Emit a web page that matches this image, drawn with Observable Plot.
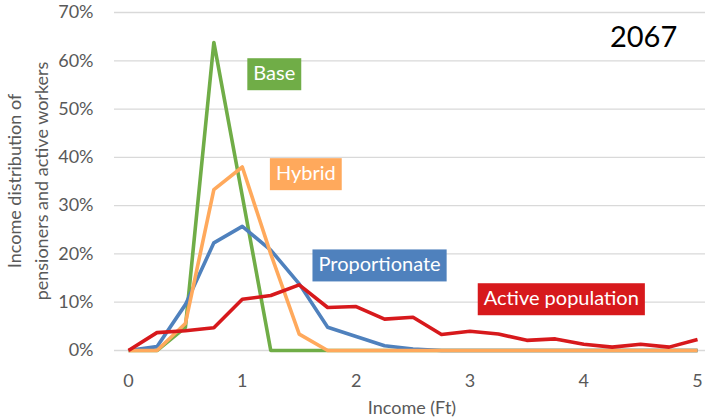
<!DOCTYPE html>
<html><head><meta charset="utf-8">
<script src="https://cdn.jsdelivr.net/npm/d3@7"></script>
<script src="https://cdn.jsdelivr.net/npm/@observablehq/plot@0.6"></script>
<style>body{margin:0;background:#fff;}</style>
</head><body><div id="chart"></div>
<script>
const income = [0,0.25,0.5,0.75,1,1.25,1.5,1.75,2,2.25,2.5,2.75,3,3.25,3.5,3.75,4,4.25,4.5,4.75,5];
const base          = [0,0,4.8,63.8,32.0,0,0,0,0,0,0,0,0,0,0,0,0,0,0,0,0];
const proportionate = [0,0.8,9.5,22.3,25.7,20.8,13.8,4.8,2.9,1.0,0.3,0,0,0,0,0,0,0,0,0,0];
const hybrid        = [0,0,5.6,33.3,38.0,20.0,3.4,0,0,0,0,0,0,0,0,0,0,0,0,0,0];
const active        = [0,3.7,4.1,4.7,10.6,11.4,13.6,8.9,9.1,6.5,6.9,3.3,4.0,3.4,2.1,2.4,1.3,0.7,1.3,0.7,2.3];
const seriesNames  = ["Base","Proportionate","Hybrid","Active population"];
const seriesColors = ["#70AD47","#4F81BD","#FFA95C","#D7191C"];
const xTicks = [0,1,2,3,4,5];
const yTicks = [0,10,20,30,40,50,60,70];
const yearLabel = "2067";
const labelNames = ["Base","Hybrid","Proportionate","Active population"];
const labelX = [1.281,1.558,2.206,3.803];
const labelY = [57.3,36.6,17.7,10.7];

const seriesValues = [base, proportionate, hybrid, active];
const rows = seriesNames.flatMap((name, k) => income.map((x, i) => ({x, y: seriesValues[k][i], name})));
const labels = labelNames.map((t, i) => ({t, x: labelX[i], y: labelY[i]}));
const colorOf = Object.fromEntries(seriesNames.map((n, i) => [n, seriesColors[i]]));
const font = "Lato, 'Open Sans', sans-serif";

const plot = Plot.plot({
  width: 707, height: 420,
  marginLeft: 114, marginRight: 2, marginTop: 12, marginBottom: 70,
  x: {domain: [-0.123, 5.07], ticks: xTicks, tickFormat: d => String(d), tickSize: 0, tickPadding: 24, label: null},
  y: {domain: [0, 70], ticks: yTicks, tickFormat: d => d + "%", tickSize: 0, tickPadding: 21, label: null},
  color: {domain: seriesNames, range: seriesColors},
  style: {fontFamily: font, fontSize: "18px", color: "#595959", background: "#fff"},
  marks: [
    Plot.ruleY(yTicks, {stroke: "#d9d9d9", strokeWidth: 1.3}),
    Plot.line(rows, {x: "x", y: "y", z: "name", stroke: "name", strokeWidth: 3.6, strokeLinejoin: "round", strokeLinecap: "butt"}),
    Plot.text(labels, {x: "x", y: "y", text: "t", fill: "white", fontSize: 20, fontFamily: font}),
    Plot.text([yearLabel], {x: 4.526, y: 64.7, text: d => d, fill: "black", fontSize: 29, fontFamily: font})
  ]
});
document.getElementById("chart").appendChild(plot);

const svg = d3.select(plot);
svg.selectAll("text").filter(function() { return labelNames.includes(this.textContent); })
  .each(function() {
    const b = this.getBBox();
    const name = this.textContent;
    const r = d3.select(this.parentNode).insert("rect", () => this)
      .attr("x", b.x - 6).attr("y", b.y + b.height / 2 - 14).attr("width", b.width + 12).attr("height", 32)
      .attr("fill", colorOf[name]).attr("stroke", "none");
    const tr = this.getAttribute("transform");
    if (tr) r.attr("transform", tr);
  });

const ty = svg.append("g").attr("font-family", font).attr("font-size", 18).attr("fill", "#595959").attr("text-anchor", "middle");
ty.append("text").attr("transform", "translate(15,181) rotate(-90)").attr("dy", "0.35em").text("Income distribution of");
ty.append("text").attr("transform", "translate(42,181) rotate(-90)").attr("dy", "0.35em").text("pensioners and active workers");
ty.append("text").attr("x", 412).attr("y", 408).attr("dy", "0.35em").text("Income (Ft)");
</script>
</body></html>
